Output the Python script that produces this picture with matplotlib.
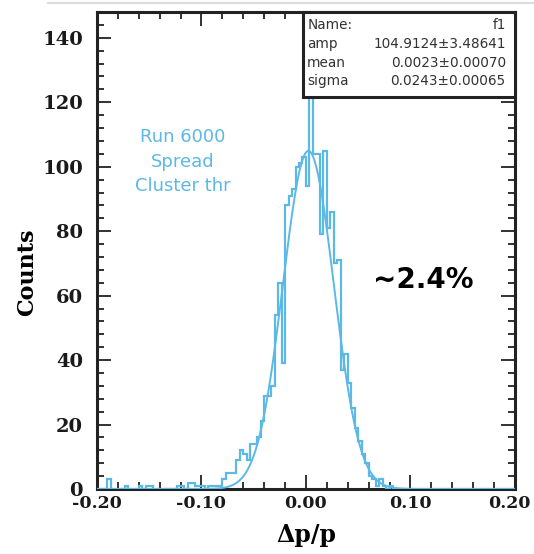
import matplotlib
matplotlib.use("Agg")
import matplotlib.pyplot as plt
import matplotlib.transforms as mtransforms
import numpy as np
from matplotlib.ticker import FixedLocator, MultipleLocator
from matplotlib.patches import Rectangle
from matplotlib.lines import Line2D

# histogram of dp/p, 120 bins between -0.2 and 0.2
x_range = (-0.2, 0.2)
counts = [
    0, 0, 0, 3, 0, 0, 0, 0, 1, 0,
    0, 0, 1, 0, 1, 1, 0, 0, 0, 0,
    0, 0, 0, 1, 1, 0, 2, 2, 1, 1,
    1, 0, 1, 1, 1, 1, 3, 5, 5, 5,
    9, 12, 11, 9, 14, 14, 16, 21, 29, 29,
    32, 54, 64, 39, 88, 91, 93, 100, 101, 103,
    94, 128, 104, 104, 79, 105, 81, 86, 70, 71,
    37, 42, 33, 25, 19, 15, 11, 8, 4, 3,
    1, 3, 1, 0, 1, 0, 0, 0, 0, 0,
    0, 0, 0, 0, 0, 0, 0, 0, 0, 0,
    0, 0, 0, 0, 0, 0, 0, 0, 0, 0,
    0, 0, 0, 0, 0, 0, 0, 0, 0, 0,
]

# gaussian fit parameters (f1)
fit_amp = 104.9124
fit_mean = 0.0023
fit_sigma = 0.0243
stat_names = ["Name:", "amp", "mean", "sigma"]
stat_values = ["f1", "104.9124\u00b13.48641", "0.0023\u00b10.00070", "0.0243\u00b10.00065"]

x_ticks = [-0.2, -0.1, 0.0, 0.1, 0.2]
y_ticks = [0, 20, 40, 60, 80, 100, 120, 140]

blue = "#5cb8e4"
serif = "DejaVu Serif"

fig = plt.figure(figsize=(5.34, 5.54), dpi=100)
ax = fig.add_axes([0.1816, 0.1173, 0.7828, 0.861])

edges = np.linspace(x_range[0], x_range[1], len(counts) + 1)
ax.stairs(counts, edges, color=blue, linewidth=1.6, zorder=3)

xs = np.linspace(x_range[0], x_range[1], 800)
ax.plot(xs, fit_amp * np.exp(-0.5 * ((xs - fit_mean) / fit_sigma) ** 2),
        color=blue, linewidth=1.4, zorder=3)

ax.set_xlim(*x_range)
ax.set_ylim(0, 148)

ax.xaxis.set_major_locator(FixedLocator(x_ticks))
ax.xaxis.set_minor_locator(MultipleLocator(0.02))
ax.yaxis.set_major_locator(FixedLocator(y_ticks))
ax.yaxis.set_minor_locator(MultipleLocator(4))
ax.set_xticklabels(["%.2f" % t for t in x_ticks])
ax.set_yticklabels([str(t) for t in y_ticks])

ax.tick_params(which="both", direction="in", top=True, right=True, width=1.3, color="#222222")
ax.tick_params(which="major", length=10)
ax.tick_params(which="minor", length=5)
ax.tick_params(axis="y", which="major", pad=10)
ax.tick_params(axis="x", which="major", pad=4)
for lab in ax.get_yticklabels():
    lab.set_fontfamily(serif)
    lab.set_fontweight("bold")
    lab.set_fontsize(14)
    lab.set_color("#1a1a1a")
for lab in ax.get_xticklabels():
    lab.set_fontfamily(serif)
    lab.set_fontweight("bold")
    lab.set_fontsize(12.5)
    lab.set_color("#1a1a1a")

# nudge the last x label so it stays inside the canvas
last = ax.get_xticklabels()[-1]
last.set_transform(last.get_transform() +
                   mtransforms.ScaledTranslation(-4 / 72, 0, fig.dpi_scale_trans))

for sp in ax.spines.values():
    sp.set_linewidth(2.2)
    sp.set_color("#222222")

ax.set_xlabel("\u0394p/p", fontfamily=serif, fontweight="bold", fontsize=17)
ax.set_ylabel("Counts", fontfamily=serif, fontweight="bold", fontsize=16)
ax.xaxis.set_label_coords(0.5, -0.072)
ax.yaxis.set_label_coords(-0.14, 0.455)

# stat box
ax.add_patch(Rectangle((0.493, 0.822), 0.507, 0.178, transform=ax.transAxes,
                       facecolor="white", edgecolor="#222222", linewidth=2.2,
                       zorder=5, clip_on=False))
rows_y = [0.972, 0.934, 0.894, 0.855]
for name, val, yy in zip(stat_names, stat_values, rows_y):
    ax.text(0.503, yy, name, transform=ax.transAxes, fontsize=9.8,
            color="#333333", va="center", ha="left", zorder=6)
    ax.text(0.978, yy, val, transform=ax.transAxes, fontsize=9.8,
            color="#333333", va="center", ha="right", zorder=6)

ax.text(0.206, 0.686, "Run 6000\nSpread\nCluster thr", transform=ax.transAxes,
        fontsize=13, color=blue, ha="center", va="center", linespacing=1.45)
ax.text(0.78, 0.438, "~2.4%", transform=ax.transAxes, fontsize=20,
        fontweight="bold", color="black", ha="center", va="center")

fig.add_artist(Line2D([0.09, 1.0], [0.994, 0.994], transform=fig.transFigure,
                      color="#dddddd", linewidth=1.5))

fig.savefig("out.png", dpi=100)
